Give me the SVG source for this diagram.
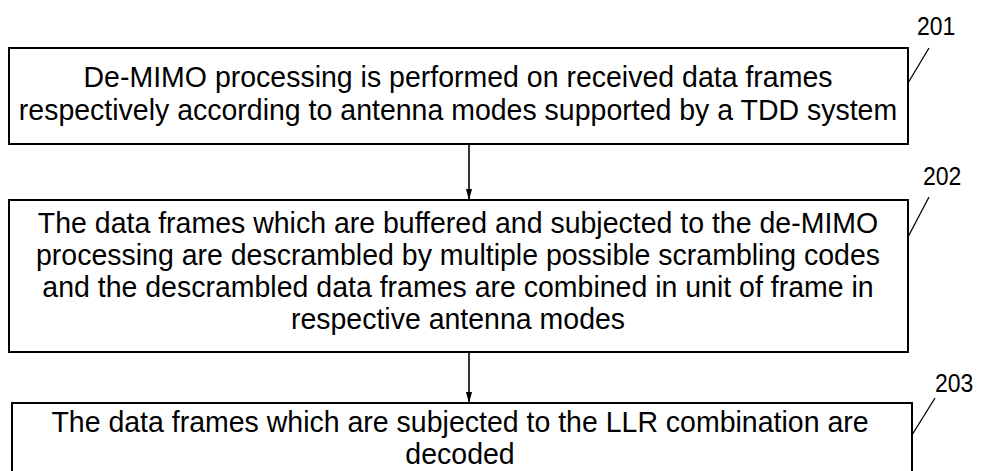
<svg xmlns="http://www.w3.org/2000/svg" width="981" height="471" viewBox="0 0 981 471">
<style>
.box{fill:#fff;stroke:#000;stroke-width:2}
.t{font-family:"Liberation Sans",Arial,sans-serif;font-size:30px;fill:#000;text-anchor:middle}
.lbl{font-family:"Liberation Sans",Arial,sans-serif;font-size:25px;fill:#000}
.lead{stroke:#000;stroke-width:1.3;fill:none}
.conn{stroke:#000;stroke-width:1.6;fill:none}
</style>
<defs>
<marker id="ah" markerWidth="11" markerHeight="20" refX="20" refY="5.5" orient="auto" markerUnits="userSpaceOnUse" viewBox="0 0 20 11">
<path d="M0,0 L20,5.5 L0,11 Z" fill="#000"/>
</marker>
</defs>
<rect width="981" height="471" fill="#fff"/>
<g id="n201">
<rect class="box" x="9" y="48" width="899" height="96"/>
<g transform="translate(458 0) scale(0.95 1)">
<text class="t" x="0" y="87">De-MIMO processing is performed on received data frames</text>
<text class="t" x="0" y="120">respectively according to antenna modes supported by a TDD system</text>
</g>
<line class="lead" x1="908" y1="83" x2="929" y2="48"/>
<text class="lbl" x="917" y="35" transform="translate(917 0) scale(0.92 1) translate(-917 0)">201</text>
</g>
<g id="n202">
<rect class="box" x="9" y="200" width="899" height="152"/>
<g transform="translate(458 0) scale(0.95 1)">
<text class="t" x="0" y="233">The data frames which are buffered and subjected to the de-MIMO</text>
<text class="t" x="0" y="265">processing are descrambled by multiple possible scrambling codes</text>
<text class="t" x="0" y="297">and the descrambled data frames are combined in unit of frame in</text>
<text class="t" x="0" y="329">respective antenna modes</text>
</g>
<line class="lead" x1="908" y1="237" x2="929" y2="197"/>
<text class="lbl" x="923" y="185" transform="translate(923 0) scale(0.92 1) translate(-923 0)">202</text>
</g>
<g id="n203">
<rect class="box" x="12" y="403" width="900" height="80"/>
<g transform="translate(460 0) scale(0.95 1)">
<text class="t" x="0" y="432">The data frames which are subjected to the LLR combination are</text>
<text class="t" x="0" y="464">decoded</text>
</g>
<line class="lead" x1="912" y1="435" x2="935" y2="398"/>
<text class="lbl" x="935" y="392" transform="translate(935 0) scale(0.92 1) translate(-935 0)">203</text>
</g>
<g id="connectors">
<line class="conn" x1="469" y1="144" x2="469" y2="200" marker-end="url(#ah)"/>
<line class="conn" x1="469" y1="352" x2="469" y2="403" marker-end="url(#ah)"/>
</g>
</svg>
